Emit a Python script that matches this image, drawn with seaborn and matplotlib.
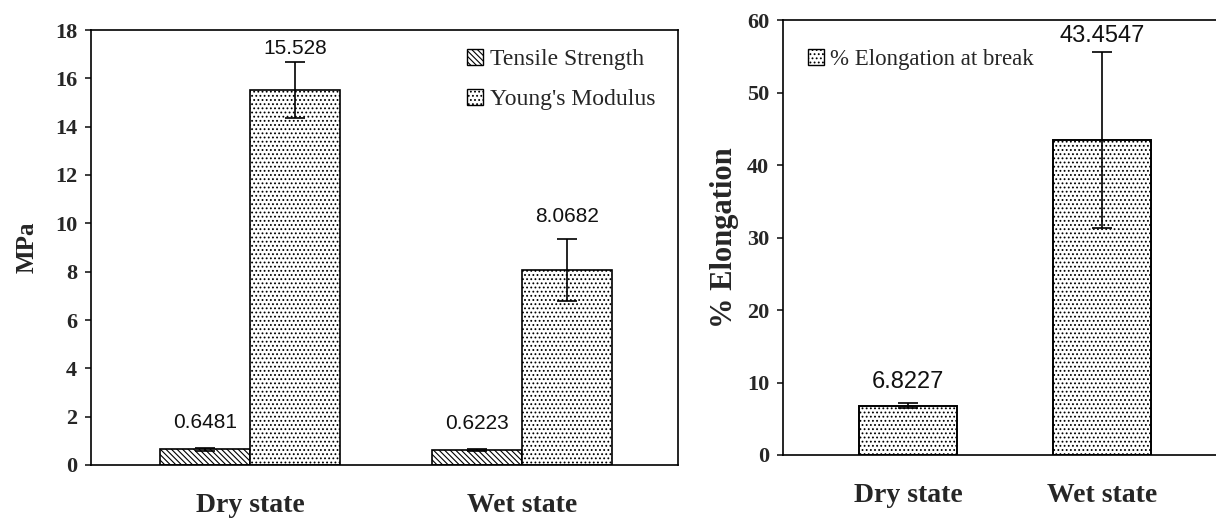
import matplotlib
matplotlib.use("Agg")
import matplotlib.pyplot as plt
import seaborn as sns
import pandas as pd
from matplotlib.patches import Patch

states = ["Dry state", "Wet state"]
tensile = [0.6481, 0.6223]
tensile_err = [0.05, 0.05]
youngs = [15.528, 8.0682]
youngs_err = [1.15, 1.3]
elong = [6.8227, 43.4547]
elong_err = [0.3, 12.2]
left_ticks = [0, 2, 4, 6, 8, 10, 12, 14, 16, 18]
right_ticks = [0, 10, 20, 30, 40, 50, 60]

sns.set_theme(style="white")
plt.rcParams["font.family"] = ["Liberation Serif", "DejaVu Serif"]
plt.rcParams["hatch.linewidth"] = 0.8
SANS = ["Liberation Sans Narrow", "Liberation Sans", "DejaVu Sans"]

fig = plt.figure(figsize=(12.16, 5.24), dpi=100)
ax1 = fig.add_axes([91 / 1216, 1 - 465 / 524, 587 / 1216, 435 / 524])
ax2 = fig.add_axes([783 / 1216, 1 - 455 / 524, 433 / 1216, 435 / 524])

# ---- left chart ----
df1 = pd.DataFrame({
    "state": states * 2,
    "prop": ["Tensile Strength"] * 2 + ["Young's Modulus"] * 2,
    "val": tensile + youngs,
})
sns.barplot(data=df1, x="state", y="val", hue="prop", ax=ax1, width=0.66,
            palette=["white", "white"], edgecolor="black", linewidth=1.2,
            errorbar=None, legend=False, saturation=1)
hatches = ["\\\\\\\\\\\\"] * 2 + ["...."] * 2
for p, h in zip(ax1.patches, hatches):
    p.set_hatch(h)
errs = tensile_err + youngs_err
vals = tensile + youngs
for p, v, e in zip(ax1.patches, vals, errs):
    xc = p.get_x() + p.get_width() / 2
    ax1.errorbar(xc, v, yerr=e, color="black", capsize=7, elinewidth=1.2, capthick=1.2)
label_pad = [1.05, 1.05, 0.55, 0.9]
for p, v, e, pad in zip(ax1.patches, vals, errs, label_pad):
    xc = p.get_x() + p.get_width() / 2
    ax1.text(xc, v + e + pad, f"{v:g}", ha="center", va="center",
             fontsize=15, family=SANS, color="#111111")
ax1.set_ylim(0, 18)
ax1.set_xlim(-0.585, 1.574)
ax1.set_yticks(left_ticks)
ax1.set_xticks([0, 1])
ax1.set_xticklabels(states, fontsize=20, fontweight="bold")
ax1.tick_params(axis="x", length=0, pad=20)
ax1.tick_params(axis="y", length=4, direction="out", left=True, labelsize=16, pad=6)
for t in ax1.get_yticklabels():
    t.set_fontweight("bold")
ax1.set_xlabel("")
ax1.set_ylabel("MPa", fontsize=18, fontweight="bold", labelpad=12)
for s in ax1.spines.values():
    s.set_color("black")
    s.set_linewidth(1.2)
h1 = [Patch(facecolor="white", edgecolor="black", hatch="\\\\\\\\\\\\", label="Tensile Strength"),
      Patch(facecolor="white", edgecolor="black", hatch="....", label="Young's Modulus")]
ax1.legend(handles=h1, loc="upper right", frameon=False, fontsize=17,
           handlelength=0.7, handleheight=0.7, handletextpad=0.3,
           labelspacing=0.8, bbox_to_anchor=(0.986, 0.99), borderaxespad=0.2)

# ---- right chart ----
df2 = pd.DataFrame({"state": states, "val": elong})
sns.barplot(data=df2, x="state", y="val", ax=ax2, width=0.505, color="white",
            edgecolor="black", linewidth=1.4, errorbar=None, saturation=1)
for p in ax2.patches:
    p.set_hatch("....")
for p, v, e in zip(ax2.patches, elong, elong_err):
    xc = p.get_x() + p.get_width() / 2
    ax2.errorbar(xc, v, yerr=e, color="black", capsize=7, elinewidth=1.2, capthick=1.2)
label_pad2 = [3.0, 2.2]
for p, v, e, pad in zip(ax2.patches, elong, elong_err, label_pad2):
    xc = p.get_x() + p.get_width() / 2
    ax2.text(xc, v + e + pad, f"{v:g}", ha="center", va="center",
             fontsize=17, family=SANS, color="#111111")
ax2.set_ylim(0, 60)
ax2.set_xlim(-0.644, 1.588)
ax2.set_yticks(right_ticks)
ax2.set_xticks([0, 1])
ax2.set_xticklabels(states, fontsize=20, fontweight="bold")
ax2.tick_params(axis="x", length=0, pad=20)
ax2.tick_params(axis="y", length=4, direction="out", left=True, labelsize=16, pad=6)
for t in ax2.get_yticklabels():
    t.set_fontweight("bold")
ax2.set_xlabel("")
ax2.set_ylabel("% Elongation", fontsize=22, fontweight="bold", labelpad=6)
for s in ax2.spines.values():
    s.set_color("black")
    s.set_linewidth(1.2)
ax2.spines["right"].set_visible(False)
h2 = [Patch(facecolor="white", edgecolor="black", hatch="....", label="% Elongation at break")]
ax2.legend(handles=h2, loc="upper left", frameon=False, fontsize=16.5,
           handlelength=0.7, handleheight=0.7, handletextpad=0.3,
           bbox_to_anchor=(0.025, 0.965), borderaxespad=0.2)

fig.savefig("out.png", dpi=100, facecolor="white")
